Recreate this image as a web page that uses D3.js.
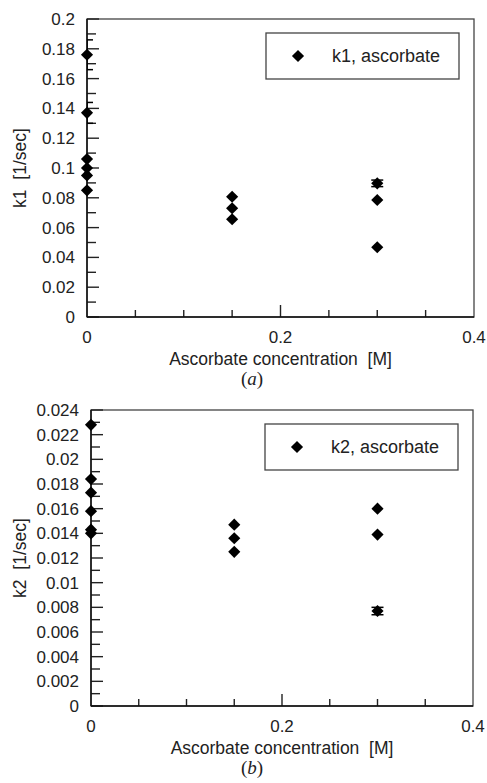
<!DOCTYPE html>
<html>
<head>
<meta charset="utf-8">
<script src="https://cdn.jsdelivr.net/npm/d3@7"></script>
<style>
  body { margin: 0; background: #fff; }
  svg { display: block; }
  text { font-family: "Liberation Sans", Arial, sans-serif; fill: #222; }
</style>
</head>
<body>
<div id="chart"></div>
<script>
// ---- data ----
var k1Conc = [0, 0, 0, 0, 0, 0, 0.15, 0.15, 0.15, 0.3, 0.3, 0.3];
var k1Vals = [0.176, 0.137, 0.106, 0.100, 0.095, 0.085, 0.0807, 0.0730, 0.0656, 0.0897, 0.0785, 0.0468];
var k1Err  = [0.010, 0.007, 0, 0, 0, 0, 0, 0, 0, 0.0022, 0, 0];

var k2Conc = [0, 0, 0, 0, 0, 0, 0.15, 0.15, 0.15, 0.3, 0.3, 0.3];
var k2Vals = [0.0228, 0.0184, 0.0173, 0.0158, 0.0143, 0.0140, 0.0147, 0.0136, 0.0125, 0.0160, 0.0139, 0.0077];
var k2Err  = [0, 0, 0, 0, 0, 0, 0, 0, 0, 0, 0, 0.0003];

var xLabels = [0, 0.2, 0.4];
var xMinor = [0.05, 0.1, 0.15, 0.25, 0.3, 0.35];
var k1Ticks = [0, 0.02, 0.04, 0.06, 0.08, 0.1, 0.12, 0.14, 0.16, 0.18, 0.2];
var k1Minor = [0.01, 0.03, 0.05, 0.07, 0.09, 0.11, 0.13, 0.15, 0.17, 0.19];
var k2Ticks = [0, 0.002, 0.004, 0.006, 0.008, 0.01, 0.012, 0.014, 0.016, 0.018, 0.02, 0.022, 0.024];
var k2Minor = [0.001, 0.003, 0.005, 0.007, 0.009, 0.011, 0.013, 0.015, 0.017, 0.019, 0.021, 0.023];

var width = 487, height = 783;

var svg = d3.select("#chart").append("svg")
  .attr("width", width)
  .attr("height", height);

// one panel
function panel(opt) {
  var x = d3.scaleLinear().domain([0, 0.4]).range([opt.left, opt.right]);
  var y = d3.scaleLinear().domain([0, opt.yMax]).range([opt.bottom, opt.top]);
  var g = svg.append("g");

  var clipId = "clip" + opt.tag;
  g.append("clipPath").attr("id", clipId)
    .append("rect")
    .attr("x", opt.left).attr("y", opt.top)
    .attr("width", opt.right - opt.left).attr("height", opt.bottom - opt.top);

  // frame
  g.append("rect")
    .attr("x", opt.left).attr("y", opt.top)
    .attr("width", opt.right - opt.left).attr("height", opt.bottom - opt.top)
    .attr("fill", "none").attr("stroke", "#444").attr("stroke-width", 1.3);

  // y ticks, pointing inward
  var yt = opt.yTicks.map(v => ({ v: v, len: 12 }))
    .concat(opt.yMinor.map(v => ({ v: v, len: 9 })));
  g.selectAll(".ytick").data(yt).enter().append("line")
    .attr("x1", opt.left).attr("x2", d => opt.left + d.len)
    .attr("y1", d => y(d.v)).attr("y2", d => y(d.v))
    .attr("stroke", "#222").attr("stroke-width", 1.4);

  // x ticks, pointing inward
  var xt = [{ v: 0.2, len: 12 }].concat(xMinor.map(v => ({ v: v, len: 7 })));
  g.selectAll(".xtick").data(xt).enter().append("line")
    .attr("x1", d => x(d.v)).attr("x2", d => x(d.v))
    .attr("y1", opt.bottom).attr("y2", d => opt.bottom - d.len)
    .attr("stroke", "#222").attr("stroke-width", 1.4);

  // axis lines
  g.append("line").attr("x1", opt.left).attr("x2", opt.left)
    .attr("y1", opt.top).attr("y2", opt.bottom)
    .attr("stroke", "#111").attr("stroke-width", 1.5);
  g.append("line").attr("x1", opt.left).attr("x2", opt.right)
    .attr("y1", opt.bottom).attr("y2", opt.bottom)
    .attr("stroke", "#111").attr("stroke-width", 1.5);

  g.selectAll(".ylab").data(opt.yTicks).enter().append("text")
    .attr("x", opt.left - 12)
    .attr("y", d => y(d) + 6)
    .attr("text-anchor", "end")
    .style("font-size", "17px")
    .text(d => d3.format("")(+d.toFixed(3)));

  g.selectAll(".xlab").data(xLabels).enter().append("text")
    .attr("x", d => x(d))
    .attr("y", opt.bottom + 26)
    .attr("text-anchor", "middle")
    .style("font-size", "17px")
    .text(d => d);

  // axis titles
  g.append("text")
    .attr("x", (opt.left + opt.right) / 2)
    .attr("y", opt.bottom + 48)
    .attr("text-anchor", "middle")
    .style("font-size", "17.5px")
    .style("white-space", "pre")
    .text("Ascorbate concentration  [M]");

  g.append("text")
    .attr("transform", "translate(26," + ((opt.top + opt.bottom) / 2) + ") rotate(-90)")
    .attr("text-anchor", "middle")
    .style("font-size", "17.5px")
    .style("white-space", "pre")
    .text(opt.yTitle);

  g.append("text")
    .attr("x", 252)
    .attr("y", opt.bottom + 68)
    .attr("text-anchor", "middle")
    .style("font-family", "'Liberation Serif', 'Times New Roman', serif")
    .style("font-size", "19px")
    .html("(<tspan font-style='italic'>" + opt.tag + "</tspan>)");

  // data
  var pts = opt.conc.map((c, i) => ({ c: c, v: opt.vals[i], e: opt.err[i] }));
  var eb = g.append("g").attr("clip-path", "url(#" + clipId + ")");
  pts.filter(d => d.e > 0).forEach(function (d) {
    var cx = x(d.c);
    eb.append("line").attr("x1", cx).attr("x2", cx)
      .attr("y1", y(d.v - d.e)).attr("y2", y(d.v + d.e))
      .attr("stroke", "#000").attr("stroke-width", 1.5);
    [d.v - d.e, d.v + d.e].forEach(function (v) {
      eb.append("line").attr("x1", cx - 6).attr("x2", cx + 6)
        .attr("y1", y(v)).attr("y2", y(v))
        .attr("stroke", "#000").attr("stroke-width", 1.5);
    });
  });

  var diamond = d3.symbol().type(d3.symbolSquare).size(74);
  g.selectAll(".pt").data(pts).enter().append("path")
    .attr("d", diamond)
    .attr("transform", d => "translate(" + x(d.c) + "," + y(d.v) + ") rotate(45)")
    .attr("fill", "#000");

  // legend
  var lw = 193, lh = 46;
  var lx = opt.right - 15 - lw, ly = opt.top + 14;
  g.append("rect").attr("x", lx).attr("y", ly).attr("width", lw).attr("height", lh)
    .attr("fill", "#fff").attr("stroke", "#444").attr("stroke-width", 1.3);
  g.append("path").attr("d", diamond)
    .attr("transform", "translate(" + (lx + 32) + "," + (ly + lh / 2) + ") rotate(45)")
    .attr("fill", "#000");
  g.append("text").attr("x", lx + 66).attr("y", ly + lh / 2 + 6)
    .style("font-size", "18px")
    .text(opt.legend);
}

panel({ tag: "a", left: 87, right: 474, top: 19, bottom: 317, yMax: 0.2,
  yTicks: k1Ticks, yMinor: k1Minor, conc: k1Conc, vals: k1Vals, err: k1Err,
  yTitle: "k1  [1/sec]", legend: "k1, ascorbate" });

panel({ tag: "b", left: 91, right: 473, top: 410, bottom: 706, yMax: 0.024,
  yTicks: k2Ticks, yMinor: k2Minor, conc: k2Conc, vals: k2Vals, err: k2Err,
  yTitle: "k2  [1/sec]", legend: "k2, ascorbate" });
</script>
</body>
</html>
